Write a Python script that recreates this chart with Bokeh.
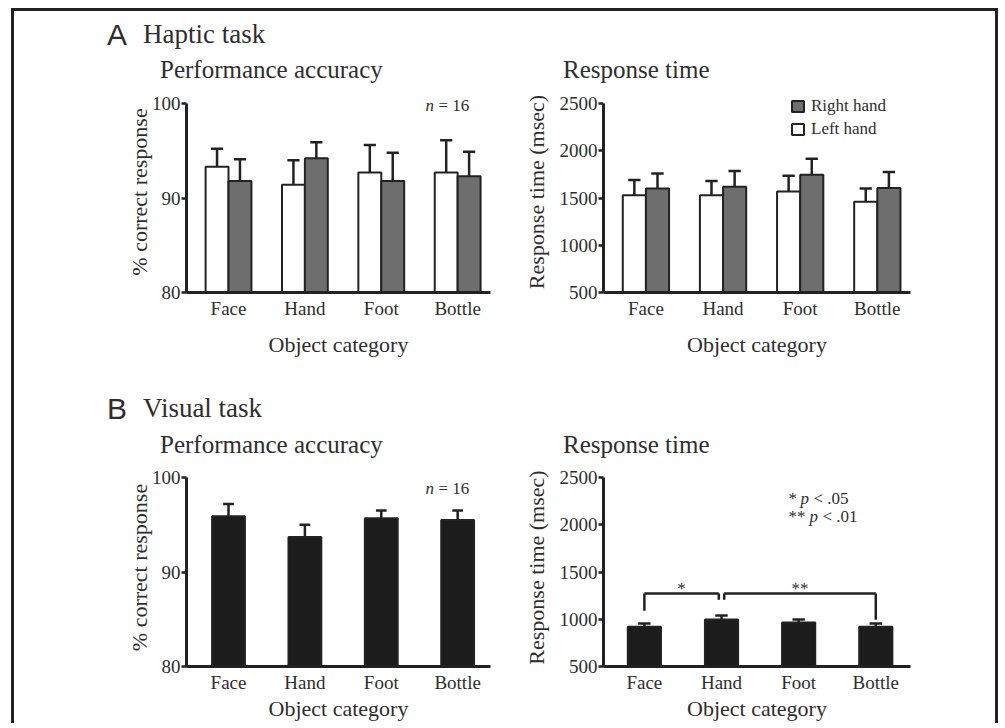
from bokeh.plotting import figure
from bokeh.models import Range1d, FixedTicker, Label, Legend, LegendItem, Div
from bokeh.layouts import column, row
from bokeh.embed import file_html
from bokeh.resources import INLINE
from bokeh.core.properties import value

# ---------------- data ----------------
categories = ["Face", "Hand", "Foot", "Bottle"]
positions = [1, 2, 3, 4]

haptic_acc_left = [93.3, 91.4, 92.7, 92.7]
haptic_acc_left_sem = [1.9, 2.6, 2.9, 3.4]
haptic_acc_right = [91.8, 94.2, 91.8, 92.3]
haptic_acc_right_sem = [2.3, 1.7, 3.0, 2.6]

haptic_rt_left = [1530, 1530, 1570, 1460]
haptic_rt_left_sem = [160, 150, 165, 140]
haptic_rt_right = [1600, 1620, 1745, 1605]
haptic_rt_right_sem = [160, 165, 170, 170]

visual_acc = [95.9, 93.7, 95.7, 95.5]
visual_acc_sem = [1.3, 1.3, 0.8, 1.0]
visual_rt = [920, 997, 965, 920]
visual_rt_sem = [35, 43, 32, 35]

acc_ticks = [80, 90, 100]
rt_ticks = [500, 1000, 1500, 2000, 2500]

# significance brackets (visual response time)
comparisons = [("Face", "Hand", "*"), ("Hand", "Bottle", "**")]
bracket_level = 1272
bracket_ends = {"Face": 1089, "Hand": 1206, "Bottle": 994}

# ---------------- style ----------------
INK = "#222222"
TXT = "#2e2e2e"
SERIF = "Liberation Serif"
SANS = "Liberation Sans"
GRAY = "#6e6e6e"
BLACK = "#1c1c1c"
LEFT0 = 14   # window x of content left edge
TOP0 = 11    # window y of content top edge


def geometry(fl, fr, ft, fb, tick_top_px, x0, x1, ticks):
    """frame in window px; y range extended above top tick so labels fit in frame"""
    y0, yt = ticks[0], ticks[-1]
    per_px = (yt - y0) / (fb - tick_top_px)
    y1 = yt + (tick_top_px - ft) * per_px
    return (fl, fr, ft, fb, x0, x1, y0, y1)


def make_fig(geo, mbl, mbr, mbt, mbb, yticks, ylabel, xlab_standoff, ylab_standoff):
    fl, fr, ft, fb, x0, x1, y0, y1 = geo
    p = figure(frame_width=fr - fl, frame_height=fb - ft,
               min_border_left=mbl, min_border_right=mbr,
               min_border_top=mbt, min_border_bottom=mbb,
               x_range=Range1d(x0, x1), y_range=Range1d(y0, y1),
               output_backend="svg", toolbar_location=None, title=None)
    p.grid.visible = False
    p.outline_line_color = None
    p.background_fill_color = "white"
    p.border_fill_color = "white"
    for ax in (p.xaxis[0], p.yaxis[0]):
        ax.axis_line_width = 3
        ax.axis_line_color = INK
        ax.major_tick_line_width = 2.5
        ax.major_tick_line_color = INK
        ax.minor_tick_line_color = None
        ax.major_label_text_font = SERIF
        ax.major_label_text_font_size = "19px"
        ax.major_label_text_color = TXT
        ax.axis_label_text_font = SERIF
        ax.axis_label_text_font_size = "22px"
        ax.axis_label_text_font_style = "normal"
        ax.axis_label_text_color = TXT
    xa = p.xaxis[0]
    xa.ticker = FixedTicker(ticks=positions)
    xa.major_label_overrides = {pos: c for pos, c in zip(positions, categories)}
    xa.major_tick_out = 0
    xa.major_tick_in = 0
    xa.major_tick_line_color = None
    xa.major_label_standoff = 5
    xa.axis_label = "Object category"
    xa.axis_label_standoff = xlab_standoff
    ya = p.yaxis[0]
    ya.ticker = FixedTicker(ticks=yticks)
    ya.bounds = (yticks[0], yticks[-1])
    ya.major_tick_out = 5
    ya.major_tick_in = 0
    ya.major_label_standoff = 1
    ya.axis_label = ylabel
    ya.axis_label_standoff = ylab_standoff
    return p


def add_text(p, geo, px, py, text, font=SERIF, size=17, style="normal",
             align="left", baseline="alphabetic"):
    fl, fr, ft, fb, x0, x1, y0, y1 = geo
    x = x0 + (px - fl) / (fr - fl) * (x1 - x0)
    y = y0 + (fb - py) / (fb - ft) * (y1 - y0)
    p.add_layout(Label(x=x, y=y, text=text, text_font=font,
                       text_font_size=f"{size}px", text_font_style=style,
                       text_color=TXT, text_align=align, text_baseline=baseline))


def bars_with_err(p, xs, vals, sems, width, color, bottom, cap):
    r = p.vbar(x=xs, width=width, top=vals, bottom=bottom,
               fill_color=color, line_color=INK, line_width=2)
    tops = [v + s for v, s in zip(vals, sems)]
    p.segment(x0=xs, y0=vals, x1=xs, y1=tops, line_color=INK, line_width=2.5)
    p.segment(x0=[x - cap for x in xs], y0=tops, x1=[x + cap for x in xs], y1=tops,
              line_color=INK, line_width=2.5)
    return r


def span(text, left, baseline, size, font=SERIF, style="normal", div_top=0):
    asc = 0.8465 if font == SANS else 0.8375
    top = baseline - div_top - asc * size
    return (f'<span style="position:absolute;left:{left - LEFT0}px;top:{top:.1f}px;'
            f"font-family:'{font}';font-size:{size}px;line-height:{size}px;"
            f'font-style:{style};color:{TXT};white-space:nowrap;">{text}</span>')


def heading_div(letter, title, sub_left, sub_right, top, height, base_head, base_sub):
    html = ('<div style="position:relative;width:980px;height:%dpx;">' % height
            + span(letter, 107, base_head + 1, 30, font=SANS, div_top=top)
            + span(title, 143, base_head, 27, div_top=top)
            + span(sub_left, 160, base_sub, 25, div_top=top)
            + span(sub_right, 563, base_sub, 25, div_top=top)
            + "</div>")
    return Div(text=html, width=980, height=height, margin=0)


# frame geometry (window pixels) + ranges
X0, X1 = 0.45, 4.43
g_tl = geometry(186, 490, 91, 292, 103, X0, X1, acc_ticks)
g_tr = geometry(602, 909, 91, 292, 103, X0, X1, rt_ticks)
g_bl = geometry(186, 490, 468, 666, 477, X0, X1, acc_ticks)
g_br = geometry(602, 909, 468, 666, 477, 0.47, 4.45, rt_ticks)

# ---------------- A: haptic task ----------------
div_a = heading_div("A", "Haptic task", "Performance accuracy", "Response time",
                    TOP0, 77, 44, 78)

tl = make_fig(g_tl, 186 - LEFT0, 30, 3, 88, acc_ticks, "% correct response", 10, -3)
hw = 0.3
xl = [x - hw / 2 for x in positions]
xr = [x + hw / 2 for x in positions]
bars_with_err(tl, xl, haptic_acc_left, haptic_acc_left_sem, hw, "white", acc_ticks[0], 0.08)
bars_with_err(tl, xr, haptic_acc_right, haptic_acc_right_sem, hw, GRAY, acc_ticks[0], 0.08)
add_text(tl, g_tl, 425, 105, "n", style="italic")
add_text(tl, g_tl, 438, 105, "= 16")

tr = make_fig(g_tr, 602 - 520, 85, 3, 88, rt_ticks, "Response time (msec)", 10, 8)
r_left = bars_with_err(tr, xl, haptic_rt_left, haptic_rt_left_sem, hw, "white", rt_ticks[0], 0.08)
r_right = bars_with_err(tr, xr, haptic_rt_right, haptic_rt_right_sem, hw, GRAY, rt_ticks[0], 0.08)
legend = Legend(items=[LegendItem(label="Right hand", renderers=[r_right]),
                       LegendItem(label="Left hand", renderers=[r_left])],
                location=(187, 153), border_line_color=None, background_fill_alpha=0,
                padding=0, margin=0, spacing=3, glyph_width=15, glyph_height=14,
                label_height=17, label_standoff=6, label_text_font=SERIF,
                label_text_font_size="17px", label_text_color=TXT)
tr.add_layout(legend)

# ---------------- B: visual task ----------------
div_b = heading_div("B", "Visual task", "Performance accuracy", "Response time",
                    380, 85, 418, 453)

bl = make_fig(g_bl, 186 - LEFT0, 30, 3, 53, acc_ticks, "% correct response", 0, -3)
vw = 0.43
bars_with_err(bl, positions, visual_acc, visual_acc_sem, vw, BLACK, acc_ticks[0], 0.07)
add_text(bl, g_bl, 425, 488, "n", style="italic")
add_text(bl, g_bl, 438, 488, "= 16")

br = make_fig(g_br, 602 - 520, 85, 3, 53, rt_ticks, "Response time (msec)", 0, 8)
bars_with_err(br, positions, visual_rt, visual_rt_sem, vw, BLACK, rt_ticks[0], 0.08)

# brackets
gap = 0.035
idx = {c: p for c, p in zip(categories, positions)}
for a, b, star in comparisons:
    xa = idx[a] + (gap if a == "Hand" else 0)
    xb = idx[b] - (gap if b == "Hand" else 0)
    br.segment(x0=[xa, xa, xb], y0=[bracket_ends[a], bracket_level, bracket_level],
               x1=[xa, xb, xb], y1=[bracket_level, bracket_level, bracket_ends[b]],
               line_color=INK, line_width=2.5)
    br.text(x=[(xa + xb) / 2], y=[bracket_level + 50], text=[star],
            text_font=value(SERIF), text_font_size="17px", text_align="center",
            text_baseline="alphabetic", text_color=TXT)
add_text(br, g_br, 787, 498, "*")
add_text(br, g_br, 799, 498, "p", style="italic")
add_text(br, g_br, 812, 498, "< .05")
add_text(br, g_br, 787, 516, "**")
add_text(br, g_br, 808, 516, "p", style="italic")
add_text(br, g_br, 821, 516, "< .01")

layout = column(div_a, row(tl, tr), div_b, row(bl, br), margin=(8, 0, 0, 11),
                styles={"border-left": "3px solid #222", "border-top": "3px solid #222",
                        "border-right": "3px solid #222"})

open("out.html", "w").write(file_html(layout, INLINE))
